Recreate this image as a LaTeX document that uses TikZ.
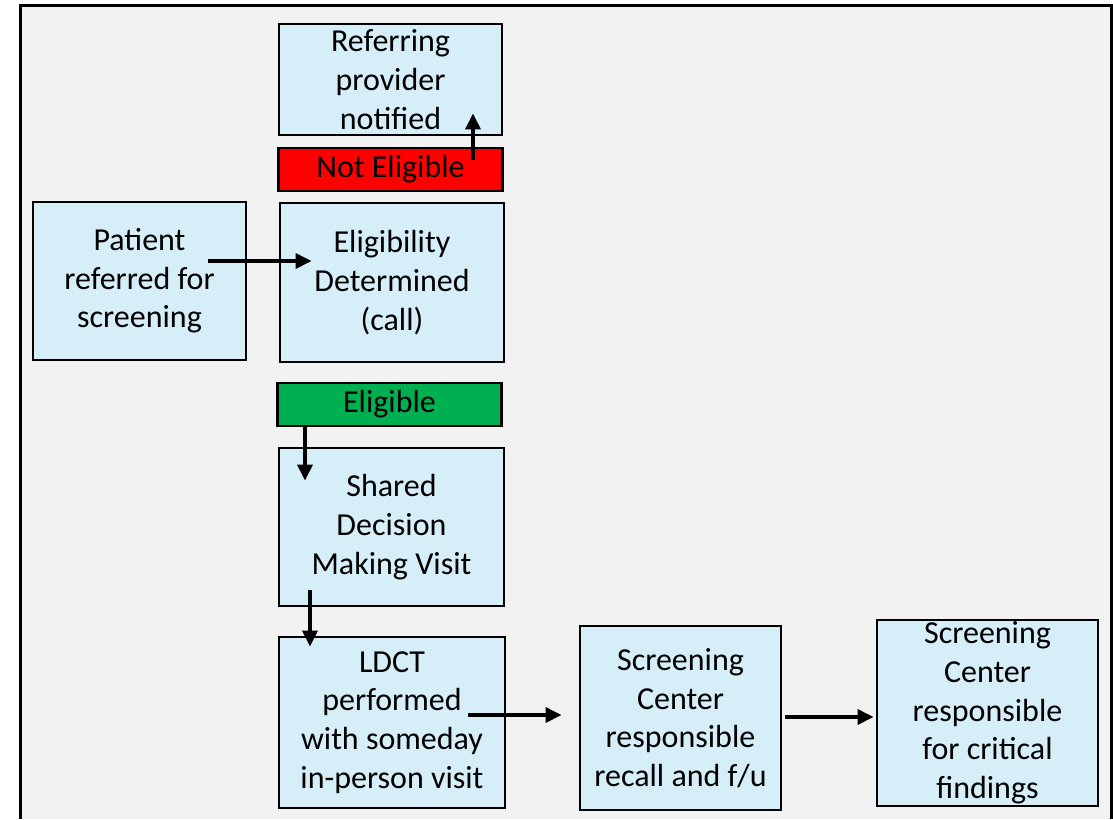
\documentclass[tikz,border=0pt]{standalone}
\usepackage{fontspec}
\setmainfont{Carlito}
\usetikzlibrary{arrows.meta,calc}
\definecolor{boxBlue}{RGB}{213,238,248}
\definecolor{redT}{RGB}{255,0,0}
\definecolor{greenT}{RGB}{0,176,80}
\definecolor{backGray}{RGB}{242,242,242}

\begin{document}
\begin{tikzpicture}[x=0.75pt,y=-0.75pt,>={Triangle[length=12pt,width=11pt]},
	processBox/.style={rectangle,inner sep=0pt,draw=black,line width=2pt,fill=boxBlue,align=center,font=\fontsize{24}{29}\selectfont},
	labelBox/.style={processBox,minimum width=224*0.75pt,minimum height=43*0.75pt},
	connection/.style={draw=black,line width=3pt,->},
]

	\useasboundingbox (0,0) rectangle (1113,819);
	\fill[backGray] (20,5) rectangle (1111,819);
	\draw[line width=2.25pt] (20,819) -- (20,5) -- (1111,5) -- (1111,819);

	\node[processBox,minimum width=223*0.75pt,minimum height=111*0.75pt](refer) at(390.5,79.5){Referring\\provider\\notified};
	\node[labelBox,fill=redT](noElig) at(390.5,169.5){Not Eligible};
	\node[processBox,minimum width=213*0.75pt,minimum height=158*0.75pt](patient) at(139.5,281){Patient\\referred for\\screening};
	\node[processBox,minimum width=224*0.75pt,minimum height=159*0.75pt](elig) at(392,282.5){Eligibility\\Determined\\(call)};
	\node[labelBox,fill=greenT](yesElig) at(389.5,404.5){Eligible};
	\node[processBox,minimum width=225*0.75pt,minimum height=158*0.75pt](sdm) at(391.5,527){Shared\\Decision\\Making Visit};
	\node[processBox,minimum width=226*0.75pt,minimum height=171*0.75pt](ldct) at(392,722.5){LDCT\\performed\\with someday\\in-person visit};
	\node[processBox,minimum width=201*0.75pt,minimum height=184*0.75pt](recall) at(680.5,718){Screening\\Center\\responsible\\recall and f/u};
	\node[processBox,minimum width=221*0.75pt,minimum height=186*0.75pt](crit) at(987.5,713){Screening\\Center\\responsible\\for critical\\findings};

	\draw[connection]($(patient.center)+(68.5,-20)$)--($(elig.west)+(33,-21.5)$);
	\draw[connection]($(noElig.center)+(82.5,-9.5)$)--($(refer.south)+(82.5,-23)$);
	\draw[connection]($(yesElig.center)+(-84.5,20.5)$)--($(sdm.north)+(-86.5,34)$);
	\draw[connection]($(sdm.center)+(-81.5,63)$)--($(ldct.north)+(-82,11)$);
	\draw[connection]($(ldct.center)+(76,-7.5)$)--($(recall.west)+(-17,-3)$);
	\draw[connection]($(recall.center)+(104.5,-1)$)--($(crit.west)+(-2,4)$);

\end{tikzpicture}
\end{document}
